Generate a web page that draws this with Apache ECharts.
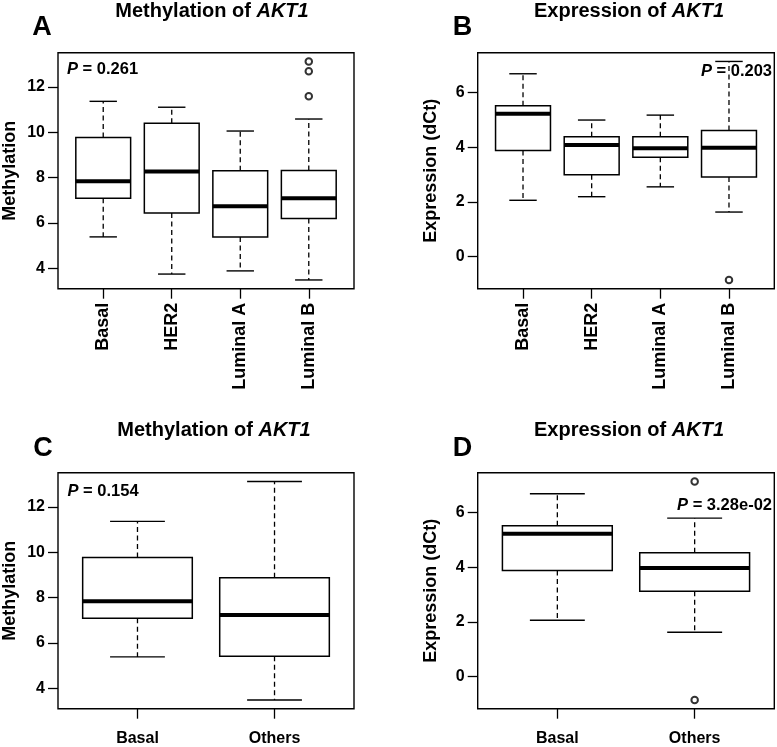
<!DOCTYPE html>
<html>
<head>
<meta charset="utf-8">
<script src="https://cdn.jsdelivr.net/npm/echarts@6/dist/echarts.min.js"></script>
<style>
html,body{margin:0;padding:0;background:#fff;}
#chart{width:777px;height:747px;}
</style>
</head>
<body>
<div id="chart"></div>
<script>
// ---------- data ----------
const subtypeCats = ['Basal', 'HER2', 'Luminal A', 'Luminal B'];
const groupCats = ['Basal', 'Others'];
// five-number summaries: [lower whisker, Q1, median, Q3, upper whisker]
const methSubtype = [
  [5.39, 7.10, 7.85, 9.77, 11.37],
  [3.75, 6.44, 8.27, 10.40, 11.11],
  [3.89, 5.38, 6.74, 8.31, 10.06],
  [3.49, 6.20, 7.10, 8.32, 10.59]
];
const methSubtypeOutliers = [[3, 13.13], [3, 12.70], [3, 11.59]]; // [category index, value]
const exprSubtype = [
  [2.06, 3.88, 5.22, 5.51, 6.68],
  [2.19, 2.99, 4.08, 4.38, 4.99],
  [2.55, 3.63, 3.96, 4.38, 5.17],
  [1.63, 2.91, 3.98, 4.61, 7.13]
];
const exprSubtypeOutliers = [[3, -0.85]];
const methGroup = [
  [5.39, 7.10, 7.85, 9.77, 11.37],
  [3.49, 5.42, 7.24, 8.88, 13.13]
];
const methGroupOutliers = [];
const exprGroup = [
  [2.06, 3.88, 5.22, 5.51, 6.68],
  [1.62, 3.12, 3.97, 4.53, 5.79]
];
const exprGroupOutliers = [[1, 7.13], [1, -0.85]];
const methTicks = [4, 6, 8, 10, 12];
const exprTicks = [0, 2, 4, 6];
const pLabels = ['0.261', '0.203', '0.154', '3.28e-02'];

// ---------- helpers ----------
const FONT = '"Liberation Sans", Arial, Helvetica, sans-serif';
const BOXW = 0.8;

function rangeR(stats, outl) {
  let lo = Infinity, hi = -Infinity;
  stats.forEach(s => { lo = Math.min(lo, s[0]); hi = Math.max(hi, s[4]); });
  outl.forEach(o => { lo = Math.min(lo, o[1]); hi = Math.max(hi, o[1]); });
  const e = (hi - lo) * 0.04;
  return [lo - e, hi + e];
}

function renderBox(params, api) {
  const x = api.value(0);
  const lo = api.coord([x, api.value(1)]);
  const q1 = api.coord([x, api.value(2)]);
  const md = api.coord([x, api.value(3)]);
  const q3 = api.coord([x, api.value(4)]);
  const hi = api.coord([x, api.value(5)]);
  const w = api.size([BOXW, 0])[0];
  const cx = lo[0];
  const dash = {stroke: '#000', lineWidth: 1.3, lineDash: [5, 3.5], fill: null};
  const solid = {stroke: '#000', lineWidth: 1.4, fill: null};
  return {
    type: 'group',
    children: [
      {type: 'line', shape: {x1: cx, y1: q3[1], x2: cx, y2: hi[1]}, style: dash},
      {type: 'line', shape: {x1: cx, y1: q1[1], x2: cx, y2: lo[1]}, style: dash},
      {type: 'line', shape: {x1: cx - w / 4, y1: hi[1], x2: cx + w / 4, y2: hi[1]}, style: solid},
      {type: 'line', shape: {x1: cx - w / 4, y1: lo[1], x2: cx + w / 4, y2: lo[1]}, style: solid},
      {type: 'rect', shape: {x: cx - w / 2, y: q3[1], width: w, height: q1[1] - q3[1]},
        style: {fill: '#fff', stroke: '#000', lineWidth: 1.5}},
      {type: 'line', shape: {x1: cx - w / 2, y1: md[1], x2: cx + w / 2, y2: md[1]},
        style: {stroke: '#000', lineWidth: 4}}
    ]
  };
}

const panels = [
  {cats: subtypeCats, stats: methSubtype, outl: methSubtypeOutliers, ticks: methTicks, rot: true,
   grid: {left: 58, top: 52.7, width: 296, height: 236}},
  {cats: subtypeCats, stats: exprSubtype, outl: exprSubtypeOutliers, ticks: exprTicks, rot: true,
   grid: {left: 477.7, top: 52.7, width: 296.6, height: 236}},
  {cats: groupCats, stats: methGroup, outl: methGroupOutliers, ticks: methTicks, rot: false,
   grid: {left: 58, top: 472.7, width: 296, height: 236}},
  {cats: groupCats, stats: exprGroup, outl: exprGroupOutliers, ticks: exprTicks, rot: false,
   grid: {left: 477.7, top: 472.7, width: 296.6, height: 236}}
];

const grid = [], xAxis = [], yAxis = [], series = [];
panels.forEach((p, i) => {
  grid.push(Object.assign({show: true, borderColor: '#000', borderWidth: 1.4, backgroundColor: 'transparent'}, p.grid));
  const n = p.cats.length;
  const xr = [0.5 - 0.04 * n, n + 0.5 + 0.04 * n];
  const catPos = p.cats.map((c, k) => k + 1);
  xAxis.push({
    type: 'value', gridIndex: i, min: xr[0], max: xr[1], position: 'bottom',
    axisLine: {show: false, onZero: false}, splitLine: {show: false},
    axisTick: {show: true, inside: false, length: 10, customValues: catPos, lineStyle: {color: '#000', width: 1.3}},
    axisLabel: {
      customValues: catPos, rotate: p.rot ? 90 : 0, margin: p.rot ? 14 : 22,
      fontFamily: FONT, fontWeight: 'bold', fontSize: p.rot ? 18 : 16, color: '#000',
      formatter: v => p.cats[Math.round(v) - 1] || ''
    }
  });
  const yr = rangeR(p.stats, p.outl);
  yAxis.push({
    type: 'value', gridIndex: i, min: yr[0], max: yr[1], position: 'left',
    axisLine: {show: false, onZero: false}, splitLine: {show: false},
    axisTick: {show: true, inside: false, length: 10, customValues: p.ticks, lineStyle: {color: '#000', width: 1.3}},
    axisLabel: {customValues: p.ticks, margin: 13, fontFamily: FONT, fontWeight: 'bold', fontSize: 16, color: '#000'}
  });
  series.push({
    type: 'custom', xAxisIndex: i, yAxisIndex: i, renderItem: renderBox,
    encode: {x: 0, y: [1, 2, 3, 4, 5]},
    data: p.stats.map((s, k) => [k + 1].concat(s)),
    silent: true, clip: false
  });
  series.push({
    type: 'scatter', xAxisIndex: i, yAxisIndex: i, symbol: 'emptyCircle', symbolSize: 6.5,
    itemStyle: {color: '#000', borderColor: '#000', borderWidth: 1.2},
    data: p.outl.map(o => [o[0] + 1, o[1]]), silent: true, z: 5
  });
});

function txt(x, y, text, size, align, extra) {
  return Object.assign({
    type: 'text', x: x, y: y, silent: true,
    style: Object.assign({text: text, fontFamily: FONT, fontWeight: 'bold', fontSize: size, fill: '#000',
      textAlign: align, textVerticalAlign: 'middle', align: align, verticalAlign: 'middle'}, extra || {})
  });
}
const richTitle = {
  n: {fontFamily: FONT, fontWeight: 'bold', fontSize: 20, color: '#000'},
  i: {fontFamily: FONT, fontWeight: 'bold', fontStyle: 'italic', fontSize: 20, color: '#000'}
};
const richP = {
  n: {fontFamily: FONT, fontWeight: 'bold', fontSize: 16.5, color: '#000'},
  i: {fontFamily: FONT, fontWeight: 'bold', fontStyle: 'italic', fontSize: 16.5, color: '#000'}
};
const graphic = [
  txt(42, 28, 'A', 27, 'center'),
  txt(462.5, 28, 'B', 27, 'center'),
  txt(43, 448.5, 'C', 27, 'center'),
  txt(462.5, 448.5, 'D', 27, 'center'),
  txt(212, 11, '{n|Methylation of }{i|AKT1}', 20, 'center', {rich: richTitle}),
  txt(629, 11, '{n|Expression of }{i|AKT1}', 20, 'center', {rich: richTitle}),
  txt(214, 430, '{n|Methylation of }{i|AKT1}', 20, 'center', {rich: richTitle}),
  txt(629, 430, '{n|Expression of }{i|AKT1}', 20, 'center', {rich: richTitle}),
  txt(67, 69, '{i|P}{n| = ' + pLabels[0] + '}', 16.5, 'left', {rich: richP}),
  txt(772, 71.5, '{i|P}{n| = ' + pLabels[1] + '}', 16.5, 'right', {rich: richP}),
  txt(67.5, 491, '{i|P}{n| = ' + pLabels[2] + '}', 16.5, 'left', {rich: richP}),
  txt(772, 505.5, '{i|P}{n| = ' + pLabels[3] + '}', 16.5, 'right', {rich: richP}),
  Object.assign(txt(10, 170.7, 'Methylation', 18, 'center'), {rotation: Math.PI / 2}),
  Object.assign(txt(431, 170.7, 'Expression (dCt)', 18, 'center'), {rotation: Math.PI / 2}),
  Object.assign(txt(10, 590.7, 'Methylation', 18, 'center'), {rotation: Math.PI / 2}),
  Object.assign(txt(431, 590.7, 'Expression (dCt)', 18, 'center'), {rotation: Math.PI / 2})
];

const chart = echarts.init(document.getElementById('chart'), null, {renderer: 'canvas'});
chart.setOption({
  backgroundColor: '#fff',
  animation: false,
  grid: grid, xAxis: xAxis, yAxis: yAxis, series: series, graphic: graphic
});
</script>
</body>
</html>
